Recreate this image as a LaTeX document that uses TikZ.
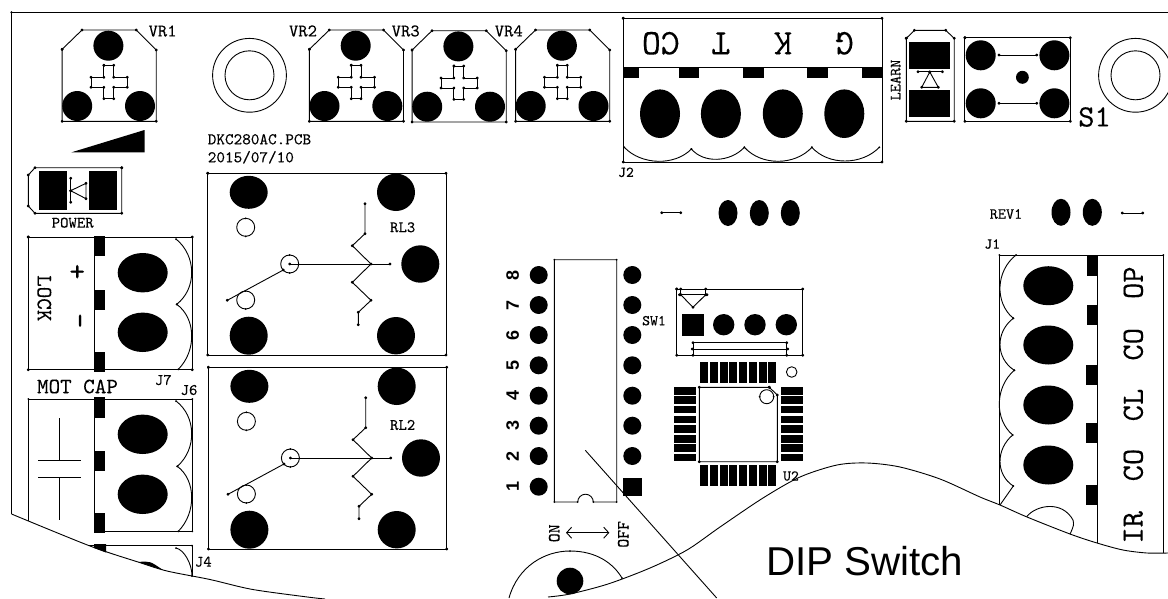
\documentclass[tikz,border=0pt]{standalone}
\usepackage{fontspec}
\setsansfont{Liberation Sans}
\setmonofont[FakeBold=0.15]{lmmono10-regular.otf}
\usetikzlibrary{arrows.meta,calc}
\tikzset{
  ln/.style={line width=0.9pt,black,line join=round},
  dotln/.style={ln,mark=*,mark size=1pt,mark options={fill=black,solid}},
  lab/.style={inner sep=0pt,outer sep=0pt,anchor=center,font=\ttfamily},
  sans/.style={inner sep=0pt,outer sep=0pt,anchor=center,font=\sffamily}
}
% polyline with a dot on each vertex
\newcommand\pl[1]{\draw[dotln] plot coordinates {#1};}
\newcommand\rb[4]{\draw[dotln] plot coordinates {(#1,#2) (#3,#2) (#3,#4) (#1,#4) (#1,#2)};}
\newcommand\pad[4]{\fill[black] (#1,#2) ellipse [x radius=#3,y radius=#4];}
\newcommand\cir[3]{\draw[ln] (#1,#2) circle [radius=#3];\foreach \aa in {90,270}{\fill ($(#1,#2)+(\aa:#3)$) circle [radius=1];}}
\newcommand\blk[4]{\fill[black] (#1,#2) rectangle (#3,#4);}
% arc from a to b through apex p, dots on both ends
\newcommand\arcq[6]{\draw[ln] (#1,#2) .. controls ({#1+0.25*(#3-#1)+1.333*(#5-(#1+#3)/2)},{#2+0.25*(#4-#2)+1.333*(#6-(#2+#4)/2)}) and ({#3-0.25*(#3-#1)+1.333*(#5-(#1+#3)/2)},{#4-0.25*(#4-#2)+1.333*(#6-(#2+#4)/2)}) .. (#3,#4);
  \fill (#1,#2) circle [radius=1];\fill (#3,#4) circle [radius=1];}
% name, x, y, size, rotation, text
\newcommand\tx[6]{\node[lab,rotate=#5] (#1) at (#2,#3) {\fontsize{#4}{#4}\selectfont #6};}
% potentiometer
\newcommand\pot[2]{\begin{scope}[shift={(#1,#2)}]
  \pl{(62.1,49.3) (82,30) (136.3,30) (156.2,50) (156.2,121.3) (62.1,121.3) (62.1,49.3)}
  \pad{108.4}{45.7}{15}{15}\pad{77.2}{106}{15}{15}\pad{140}{106}{15}{15}
  \pl{(103.9,65.3) (113.7,65.3) (113.7,77.3) (127.2,77.3) (127.2,87.3) (113.7,87.3) (113.7,98.7) (103.9,98.7) (103.9,87.3) (91,87.3) (91,77.3) (103.9,77.3) (103.9,65.3)}
\end{scope}}
% relay
\newcommand\relay[2]{\begin{scope}[shift={(#1,#2)}]
  \rb{207.7}{173.3}{446}{355}
  \pad{248.7}{192.3}{19}{16.5}\pad{396}{192.3}{19}{18.7}\pad{420.3}{264}{19}{18.7}
  \pad{248.7}{335.7}{19}{19}\pad{396}{335.7}{19}{18.7}
  \cir{245.7}{227.3}{9}\cir{245.7}{300}{9}\cir{289.7}{264}{9}
  \pl{(227.3,300.3) (283.3,270)}
  \pl{(289.7,264) (390,264)}
  \pl{(365,203.7) (365,233.7) (352.3,245.7) (371,264) (352.3,282.3) (371,300.3) (358.3,312.3) (358.3,324.7)}
\end{scope}}
\begin{document}
\begin{tikzpicture}[x=1pt,y=-1pt]
\useasboundingbox (0,0) rectangle (1168,598);
\clip (0,0) rectangle (1168,598);
% frame and outline cloud
\draw[ln] (1168,12.4) -- (11.5,12.4) -- (11.5,514);
\fill (11.5,12.4) circle [radius=1.2];
\draw[ln] plot[smooth,tension=0.5] coordinates {(11.5,514) (90,546) (138,562) (167,571) (210,579.5) (251.7,589.3) (305,596.7) (325,599)};
\draw[ln] plot[smooth,tension=0.5] coordinates {(548,597) (570,594) (608,584) (650,568) (687,550) (720,527) (763,498) (800,477) (837,465) (867,463) (900,467) (940,479) (980,497) (1000,505) (1027,517) (1070,534) (1097,543) (1123,550) (1147,553) (1168,553)};
% pots
\pot{0}{0}\pot{247.3}{0}\pot{350}{0.7}\pot{453.5}{0}
\tx{vrone}{162.6}{31}{17.8}{0}{VR1}
\tx{vrtwo}{303}{31}{17.8}{0}{VR2}
\tx{vrthree}{405.7}{31}{17.8}{0}{VR3}
\tx{vrfour}{508.8}{31}{17.8}{0}{VR4}
% mounting holes
\draw[ln] (249.5,75.3) circle [radius=36.9] (249.5,75.3) circle [radius=24.5];
\draw[ln] (1135.5,75.3) circle [radius=36.9] (1135.5,75.3) circle [radius=24.5];
% ramp
\fill (71.5,152.3) -- (144.5,130) -- (144.5,152.3) -- cycle;
\node[lab,anchor=west] (pcb) at (207.8,139.3) {\fontsize{16.4}{16.4}\selectfont DKC280AC.PCB};
\node[lab,anchor=west] (date) at (207.8,157.3) {\fontsize{16.4}{16.4}\selectfont 2015/07/10};
% power
\pl{(121.7,167.7) (35,167.7) (28.3,175) (28.3,206) (35,213.3) (121.7,213.3) (121.7,167.7)}
\blk{39}{171}{66.7}{210}\blk{89.3}{171}{117}{210}
\pl{(70.7,178.3) (70.7,202.3)}
\pl{(70.7,190.7) (86,183.3) (86,198.7) (70.7,190.7)}
\tx{power}{72.7}{222.7}{16}{0}{POWER}
% J7
\rb{28.3}{237}{192.3}{369.7}
\draw[ln] (94.7,237) -- (94.7,369.7);
\blk{94.3}{236}{105}{256}\blk{94.3}{290}{105}{310}\blk{94.3}{352}{105}{372}
\pad{142.7}{272.7}{25}{19.7}\pad{142.7}{332.3}{25}{19.7}
\arcq{176}{239}{176.7}{304.3}{191.7}{272}
\arcq{176.7}{304.3}{178.3}{369.3}{191.7}{335}
\tx{lock}{44.3}{298.3}{22}{-90}{LOCK}
\tx{plus}{76}{271.7}{30}{-90}{+}
\tx{minus}{76}{320.7}{30}{-90}{–}
\tx{mot}{77.5}{386.5}{22}{0}{MOT CAP}
\tx{jseven}{163.3}{380}{16}{0}{J7}
\tx{jsix}{189}{390}{16}{0}{J6}
% J6
\draw[ln] (28.3,521) -- (28.3,399) -- (192.3,399) -- (192.3,531.3) -- (94.7,531.3);
\fill (28.3,399) circle [radius=1];\fill (192.3,399) circle [radius=1];\fill (192.3,531.3) circle [radius=1];
\draw[ln] (94.7,399) -- (94.7,531.3);
\blk{94.3}{397.3}{105}{418}\blk{94.3}{451}{105}{471}\blk{94.3}{512.7}{105}{532.7}
\pad{142.7}{434.3}{25}{19.7}\pad{142.7}{494.3}{25}{19.7}
\arcq{176}{401}{177.3}{466.3}{191.7}{433}
\arcq{177.3}{466.3}{178.3}{531.3}{191.7}{497}
\draw[ln] (59.3,418.3) -- (59.3,460.3) (38.3,460.3) -- (80.7,460.3) (38.3,477.7) -- (80.7,477.7) (59.3,477.7) -- (59.3,520);
% J4
\draw[ln] (88,545.7) -- (192,545.7) -- (192,576);
\fill (192,545.7) circle [radius=1];
\arcq{176}{548}{192}{576}{187}{558}
\fill (94,544) -- (106,544) -- (106,552.5) -- (94,548) -- cycle;
\fill (138,562) .. controls (150,561) .. (163,570) -- cycle;
\tx{jfour}{203.3}{561.7}{16}{0}{J4}
% relays
\relay{0}{0}\relay{0.7}{194}
\tx{rlthree}{402.7}{227.3}{16}{0}{RL3}
\tx{rltwo}{402.7}{425}{16}{0}{RL2}
% J2
\rb{623.2}{18.3}{882}{162}
\draw[ln] (623.2,67.3) -- (882,67.3);
\blk{623.2}{67.3}{638.7}{78}\blk{678.5}{67.3}{699}{78}\blk{743}{67.3}{764}{78}\blk{807}{67.3}{828}{78}\blk{862}{67.3}{883}{78}
\pad{660}{113.7}{20}{24.3}\pad{720.9}{113.7}{20}{24.3}\pad{782.8}{113.7}{20}{24.3}\pad{844.3}{113.7}{20}{24.3}
\arcq{624.3}{147.3}{691.4}{149}{658}{161.3}
\arcq{691.4}{149}{744.4}{147.3}{717}{159.3}
\arcq{744.4}{147.3}{811.9}{147.3}{778}{161.3}
\arcq{811.9}{147.3}{879.3}{147.3}{845}{161}
\tx{coa}{660.8}{43.3}{36}{180}{CO}
\tx{tt}{720.8}{43.3}{36}{180}{T}
\tx{kk}{782.8}{43.3}{36}{180}{K}
\tx{gg}{844.3}{43.3}{36}{180}{G}
\tx{jtwo}{626}{172.3}{15}{0}{J2}
% learn
\tx{learn}{895.5}{80}{15.5}{90}{LEARN}
\pl{(906.3,38.3) (914.4,30.3) (945.7,30.3) (954.2,38.3) (954.2,121.3) (906.3,121.3) (906.3,38.3)}
\blk{908.8}{42}{950.1}{68.7}\blk{908.8}{90}{950.1}{116.7}
\pl{(918,71.7) (942.4,71.7)}
\pl{(929.8,72) (921.7,87.3) (938.3,87.3) (929.8,72)}
% S1
\rb{964.9}{37.7}{1070.3}{121.3}
\pad{980.7}{55.3}{15}{15}\pad{1054.4}{55.3}{15}{15}\pad{980.7}{103.3}{15}{15}\pad{1054.4}{103.3}{15}{15}
\pad{1022.4}{77.3}{6.4}{6.5}
\pl{(999,55) (1036.7,55)}
\pl{(999,103.3) (1036.7,103.3)}
\tx{sone}{1094.5}{117}{31}{0}{S1}
% row pads
\pl{(661.7,212.7) (680.7,212.7)}
\pad{728}{213}{9.5}{13}\pad{759.3}{213}{9.5}{13}\pad{790.3}{213}{9.5}{13}
\tx{rev}{1006}{214}{15.5}{0}{REV1}
\pad{1061}{212.3}{9.5}{13.5}\pad{1092.3}{212.3}{9.5}{13.5}
\pl{(1122.3,213) (1142.7,213)}
% J1
\tx{jone}{992.3}{244}{15}{0}{J1}
\draw[ln] (999.3,505) -- (999.3,255) -- (1163.3,255) -- (1163.3,552.7);
\fill (999.3,255) circle [radius=1];\fill (1163.3,255) circle [radius=1];
\draw[ln] (1097.3,255) -- (1097.3,542.7);
\blk{1087}{256}{1098}{276}\blk{1087}{305}{1098}{325}\blk{1086}{365}{1097.3}{385}\blk{1086}{423.3}{1097.3}{443.3}\blk{1086}{485}{1097.3}{505}
\pad{1048.3}{285.7}{25}{19.5}\pad{1048.3}{345}{25}{19.5}\pad{1048.3}{405}{25}{19.5}\pad{1048.3}{465}{25}{19.5}
\arcq{1016}{255}{1013.3}{318.3}{1000}{286.7}
\arcq{1013.3}{318.3}{1014.3}{370.3}{1000}{345}
\arcq{1014.3}{370.3}{1012.7}{435}{999.3}{403}
\arcq{1012.7}{435}{1013.3}{486}{1000}{461.7}
\draw[ln] (1013.3,486) -- (1000,505);
\draw[ln] (1026.7,516.7) .. controls (1036,505) and (1062,500) .. (1073,520) .. controls (1074,525) .. (1070,534.3);
\tx{op}{1133.3}{282.7}{31}{90}{OP}
\tx{cob}{1133.3}{344.3}{31}{90}{CO}
\tx{cl}{1133.3}{405}{31}{90}{CL}
\tx{coc}{1133.3}{465}{31}{90}{CO}
\tx{ir}{1133.3}{527.3}{31}{90}{IR}
% SW1
\draw[ln] (554.3,502) -- (554.3,259.7) -- (616.7,259.7) -- (616.7,502) -- (593.3,502) arc [start angle=0,end angle=-180,radius=7.8] -- (554.3,502);
\foreach \p in {(554.3,502),(554.3,259.7),(616.7,259.7),(616.7,502),(593.3,502),(577.7,502)}{\fill \p circle [radius=1];}
\foreach \y/\d in {275/8,305/7,335/6,365.3/5,395.7/4,425.7/3,456/2,486.7/1}{
  \pad{538.7}{\y}{9}{9}
  \node[sans,rotate=90] (dig\d) at (512.7,\y) {\fontsize{18}{18}\selectfont\bfseries \d};
}
\foreach \y in {275,305,335,365.3,395.7,425.7,456}{\pad{632.3}{\y}{9}{9}}
\blk{623.3}{478}{642}{495.7}
\tx{swone}{654}{320.7}{15}{0}{SW1}
\draw[ln] (585.3,450.3) -- (716.7,598);
\tx{on}{554.3}{533.3}{17}{90}{ON}
\tx{off}{623.3}{534.3}{17}{90}{OFF}
\coordinate (aa) at (566,532.7);\coordinate (ab) at (609.3,532.7);
\draw[ln,{Straight Barb[length=5pt,width=11pt]}-{Straight Barb[length=5pt,width=11pt]}] (aa) -- (ab);
\draw[ln] (509,598) .. controls (518,566) and (545,551) .. (570,551) .. controls (596,551) and (613,563) .. (622,578);
\fill (570,551) circle [radius=1];\fill (622,578) circle [radius=1];
\pad{570}{581}{13.3}{13.3}
% J3 block
\rb{676.7}{289}{802.7}{355.3}
\pl{(680.7,289) (680.7,294.7)}
\pl{(705.7,289) (705.7,294.7)}
\pl{(679.5,294.7) (707,294.7)}
\pl{(680.7,294.7) (693,307.3) (705.7,294.7)}
\blk{682}{314.3}{704}{336}
\pad{723.7}{324.7}{10.7}{10.7}\pad{755}{324.7}{10.7}{10.7}\pad{786.3}{324.7}{10.7}{10.7}
\pl{(693,355.3) (693,342.7) (786.7,342.7) (786.7,355.3)}
\pl{(692.3,349) (787.7,349)}
% U2
\foreach \i in {0,...,7}{
  \blk{700+\i*9.75}{362}{708+\i*9.75}{383.3}
  \blk{700+\i*9.75}{465}{708+\i*9.75}{486}
}
\foreach \a/\b in {387/395,396/404.3,406/413.3,415.7/423.3,425/433.3,435/442.7,444/452,454/461.3}{
  \blk{674}{\a}{696}{\b}\blk{780.7}{\a}{802.7}{\b}
}
\pl{(769.3,387.3) (699.3,387.3) (699.3,461.7) (777.3,461.7) (777.3,395) (769.3,387.3)}
\draw[ln] (766.7,396.7) circle [radius=7];
\fill (759.7,396.7) circle [radius=1];\fill (773.7,396.7) circle [radius=1];
\draw[ln] (791.7,372) circle [radius=5.3];
\tx{utwo}{791}{476}{15}{0}{U2}
\node[sans] (dip) at (864.7,561) {\fontsize{40.3}{40.3}\selectfont DIP Switch};
\end{tikzpicture}
\end{document}
